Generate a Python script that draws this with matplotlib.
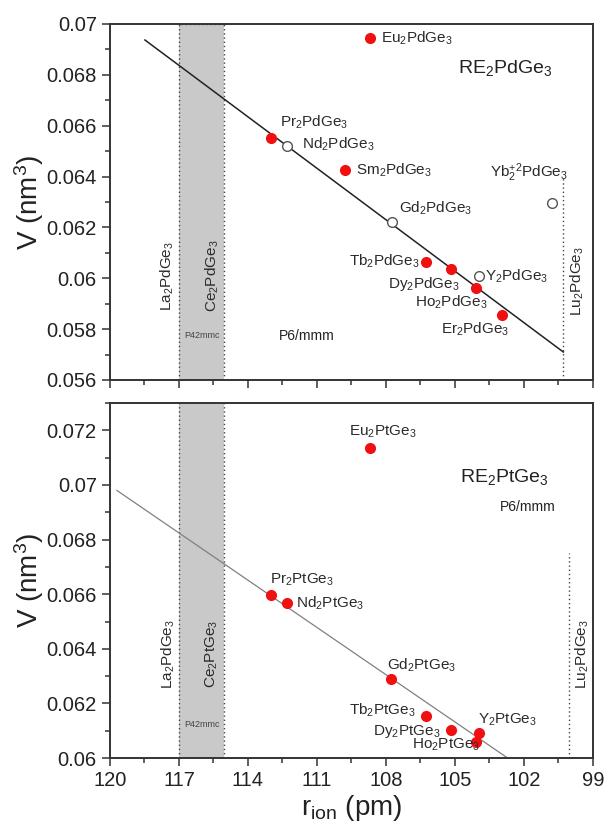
import matplotlib
matplotlib.use("Agg")
import matplotlib.pyplot as plt
from matplotlib.ticker import MultipleLocator, FuncFormatter

plt.rcParams['font.family'] = ['Liberation Sans', 'DejaVu Sans']
plt.rcParams['mathtext.fontset'] = 'custom'
plt.rcParams['mathtext.rm'] = 'Liberation Sans'
plt.rcParams['mathtext.it'] = 'Liberation Sans:italic'
plt.rcParams['mathtext.bf'] = 'Liberation Sans:bold'

# ---- data: RE2PdGe3 (top) ----
pd_names = ["Eu", "Pr", "Nd", "Sm", "Gd", "Tb", "Dy", "Y", "Ho", "Er", "Yb"]
pd_r = [108.7, 113.0, 112.3, 109.8, 107.75, 106.27, 105.17, 103.97, 104.07, 102.96, 100.77]
pd_v = [0.06945, 0.06552, 0.06522, 0.06424, 0.06221, 0.06065, 0.06036, 0.06007, 0.05963, 0.05855, 0.06295]
pd_filled = [True, True, False, True, False, True, True, False, True, True, False]
pd_fit_r = [118.48, 100.29]
pd_fit_v = [0.06937, 0.0571]

# ---- data: RE2PtGe3 (bottom) ----
pt_names = ["Eu", "Pr", "Nd", "Gd", "Tb", "Dy", "Y", "Ho"]
pt_r = [108.7, 113.0, 112.3, 107.78, 106.27, 105.19, 103.97, 104.07]
pt_v = [0.07135, 0.06598, 0.06569, 0.06288, 0.06154, 0.06103, 0.06091, 0.06057]
pt_fit_r = [119.7, 102.71]
pt_fit_v = [0.0698, 0.0600]

# structure boundaries
la_r = 117.0
ce_r = 115.05
lu_r_pd = 100.3
lu_r_pt = 100.05

# label positions (x, y, ha, text)
pd_labels = {
    "Eu": (108.22, 0.06945, 'left', "Eu$_2$PdGe$_3$"),
    "Pr": (112.61, 0.06615, 'left', "Pr$_2$PdGe$_3$"),
    "Nd": (111.67, 0.06525, 'left', "Nd$_2$PdGe$_3$"),
    "Sm": (109.30, 0.06426, 'left', "Sm$_2$PdGe$_3$"),
    "Gd": (107.43, 0.06277, 'left', "Gd$_2$PdGe$_3$"),
    "Tb": (106.55, 0.06065, 'right', "Tb$_2$PdGe$_3$"),
    "Dy": (107.91, 0.05978, 'left', "Dy$_2$PdGe$_3$"),
    "Y": (103.70, 0.06006, 'left', "Y$_2$PdGe$_3$"),
    "Ho": (106.74, 0.05904, 'left', "Ho$_2$PdGe$_3$"),
    "Er": (105.61, 0.05798, 'left', "Er$_2$PdGe$_3$"),
    "Yb": (103.48, 0.06415, 'left', "Yb$_2^{+2}$PdGe$_3$"),
}
pt_labels = {
    "Eu": (108.13, 0.07193, 'center', "Eu$_2$PtGe$_3$"),
    "Pr": (113.04, 0.06652, 'left', "Pr$_2$PtGe$_3$"),
    "Nd": (111.91, 0.06567, 'left', "Nd$_2$PtGe$_3$"),
    "Gd": (107.96, 0.06341, 'left', "Gd$_2$PtGe$_3$"),
    "Tb": (106.70, 0.06176, 'right', "Tb$_2$PtGe$_3$"),
    "Dy": (108.57, 0.06096, 'left', "Dy$_2$PtGe$_3$"),
    "Y": (104.00, 0.06140, 'left', "Y$_2$PtGe$_3$"),
    "Ho": (106.87, 0.06048, 'left', "Ho$_2$PtGe$_3$"),
}

RED = '#f01010'
EDGE = '#555555'
SPINE = '#333333'
TXT = '#2a2a2a'
LABEL_FS = 11
TICK_FS = 14.5
AXLABEL_FS = 20

fig = plt.figure(figsize=(6.06, 8.30), dpi=100)
ax1 = fig.add_axes([0.1815, 0.5422, 0.797, 0.4289])
ax2 = fig.add_axes([0.1815, 0.0867, 0.797, 0.4277])

fmt = FuncFormatter(lambda v, p: "%g" % round(v, 4))


def style_axis(ax):
    ax.set_xlim(120, 99)
    ax.xaxis.set_major_locator(MultipleLocator(3))
    ax.xaxis.set_minor_locator(MultipleLocator(1.5))
    ax.yaxis.set_major_locator(MultipleLocator(0.002))
    ax.yaxis.set_minor_locator(MultipleLocator(0.001))
    ax.yaxis.set_major_formatter(fmt)
    ax.tick_params(which='both', direction='out', top=False, right=False,
                   color=SPINE, width=1.1, labelsize=TICK_FS, colors='#222222')
    ax.tick_params(which='major', length=6)
    ax.tick_params(which='minor', length=3.5)
    for s in ax.spines.values():
        s.set_color(SPINE)
        s.set_linewidth(1.4)
    ax.set_ylabel("V (nm$^3$)", fontsize=AXLABEL_FS, labelpad=0, color='#222222')


def band(ax, ylo, yhi):
    ax.axvspan(ce_r, la_r, facecolor='#c9c9c9', edgecolor='none', zorder=0)
    ax.vlines([la_r, ce_r], ylo, yhi, colors='#444444', linestyles=(0, (1, 2)), linewidth=1.0, zorder=1)


# ---------------- top panel ----------------
style_axis(ax1)
ax1.set_ylim(0.056, 0.07)
ax1.tick_params(axis='x', labelbottom=False)
band(ax1, 0.056, 0.07)
ax1.hlines([0.07, 0.056], ce_r, la_r, colors='#444444', linestyles=(0, (1, 2)), linewidth=1.0, zorder=1)
ax1.vlines(lu_r_pd, 0.056, 0.06395, colors='#444444', linestyles=(0, (1, 2)), linewidth=1.0)
ax1.plot(pd_fit_r, pd_fit_v, color='#222222', lw=1.1, zorder=2)
for n, r, v, f in zip(pd_names, pd_r, pd_v, pd_filled):
    if f:
        ax1.plot(r, v, 'o', ms=7, color=RED, mec=RED, zorder=3)
    else:
        ax1.plot(r, v, 'o', ms=7, mfc='white', mec=EDGE, mew=1.0, zorder=3)
    x, y, ha, txt = pd_labels[n]
    ax1.text(x, y, txt, ha=ha, va='center', fontsize=LABEL_FS, color=TXT)

ax1.text(102.83, 0.06827, "RE$_2$PdGe$_3$", ha='center', va='center', fontsize=14, color='#222222')
ax1.text(111.43, 0.05774, "P6/mmm", ha='center', va='center', fontsize=10, color='#222222')
ax1.text(116.0, 0.05774, "P42mmc", ha='center', va='center', fontsize=6.5, color='#444444')
ax1.text(117.52, 0.0601, "La$_2$PdGe$_3$", rotation=90, ha='center', va='center', fontsize=LABEL_FS, color=TXT)
ax1.text(115.57, 0.0601, "Ce$_2$PdGe$_3$", rotation=90, ha='center', va='center', fontsize=LABEL_FS, color=TXT)
ax1.text(99.70, 0.0599, "Lu$_2$PdGe$_3$", rotation=90, ha='center', va='center', fontsize=LABEL_FS, color=TXT)

# ---------------- bottom panel ----------------
style_axis(ax2)
ax2.set_ylim(0.06, 0.073)
band(ax2, 0.06, 0.073)
ax2.vlines(lu_r_pt, 0.06, 0.0675, colors='#444444', linestyles=(0, (1, 2)), linewidth=1.0)
ax2.plot(pt_fit_r, pt_fit_v, color='#808080', lw=0.9, zorder=2)
for n, r, v in zip(pt_names, pt_r, pt_v):
    ax2.plot(r, v, 'o', ms=7, color=RED, mec=RED, zorder=3)
    x, y, ha, txt = pt_labels[n]
    ax2.text(x, y, txt, ha=ha, va='center', fontsize=LABEL_FS, color=TXT)

ax2.text(102.83, 0.07028, "RE$_2$PtGe$_3$", ha='center', va='center', fontsize=14, color='#222222')
ax2.text(101.83, 0.06918, "P6/mmm", ha='center', va='center', fontsize=10, color='#222222')
ax2.text(116.0, 0.06121, "P42mmc", ha='center', va='center', fontsize=6.5, color='#444444')
ax2.text(117.48, 0.0638, "La$_2$PdGe$_3$", rotation=90, ha='center', va='center', fontsize=LABEL_FS, color=TXT)
ax2.text(115.57, 0.0638, "Ce$_2$PtGe$_3$", rotation=90, ha='center', va='center', fontsize=LABEL_FS, color=TXT)
ax2.text(99.48, 0.0638, "Lu$_2$PdGe$_3$", rotation=90, ha='center', va='center', fontsize=LABEL_FS, color=TXT)
ax2.set_xlabel(r"r$_{\mathrm{ion}}$ (pm)", fontsize=AXLABEL_FS, labelpad=2, color='#222222')

fig.savefig("out.png", dpi=100)
